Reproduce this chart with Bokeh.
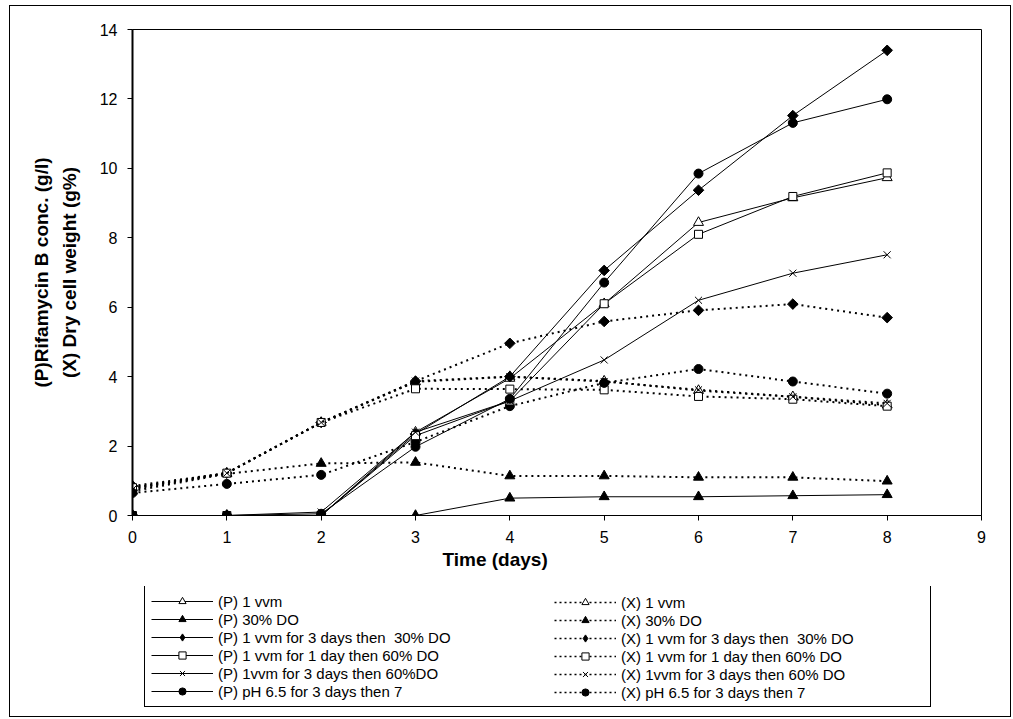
import math
from bokeh.plotting import figure
from bokeh.layouts import column
from bokeh.models import (Range1d, Legend, LegendItem, Title, FixedTicker)
from bokeh.embed import file_html
from bokeh.resources import INLINE

# ---- data ----
days = [0, 1, 2, 3, 4, 5, 6, 7, 8]
x_ticks = [0, 1, 2, 3, 4, 5, 6, 7, 8, 9]
y_ticks = [0, 2, 4, 6, 8, 10, 12, 14]

p_1vvm = [0, 0, 0, 2.4, 3.95, 6.1, 8.44, 9.15, 9.73]
p_30do = [0, 0, 0, 0, 0.5, 0.54, 0.54, 0.57, 0.6]
p_3d_30do = [0, 0, 0, 2.35, 4.0, 7.06, 9.37, 11.52, 13.4]
p_1d_60do = [0, 0, 0, 2.3, 3.3, 6.1, 8.1, 9.19, 9.87]
p_3d_60do = [0, 0, 0.1, 2.4, 3.3, 4.48, 6.2, 6.98, 7.51]
p_ph = [0, 0, 0.05, 1.98, 3.36, 6.71, 9.85, 11.31, 11.99]

x_1vvm = [0.8, 1.22, 2.68, 3.85, 4.0, 3.87, 3.6, 3.42, 3.18]
x_30do = [0.7, 1.2, 1.5, 1.53, 1.14, 1.14, 1.1, 1.1, 0.99]
x_3d_30do = [0.85, 1.22, 2.68, 3.87, 4.96, 5.59, 5.91, 6.09, 5.70]
x_1d_60do = [0.8, 1.22, 2.68, 3.65, 3.64, 3.62, 3.43, 3.35, 3.15]
x_3d_60do = [0.75, 1.22, 2.68, 3.87, 4.0, 3.86, 3.62, 3.42, 3.23]
x_ph = [0.65, 0.91, 1.17, 2.12, 3.15, 3.82, 4.22, 3.86, 3.51]

p_labels = ["(P) 1 vvm", "(P) 30% DO", "(P) 1 vvm for 3 days then  30% DO",
            "(P) 1 vvm for 1 day then 60% DO", "(P) 1vvm for 3 days then 60%DO",
            "(P) pH 6.5 for 3 days then 7"]
x_labels = ["(X) 1 vvm", "(X) 30% DO", "(X) 1 vvm for 3 days then  30% DO",
            "(X) 1 vvm for 1 day then 60% DO", "(X) 1vvm for 3 days then 60% DO",
            "(X) pH 6.5 for 3 days then 7"]

FONT = "Liberation Sans"
BORDER_CSS = ":host { outline: 1px solid black; outline-offset: 0px; }"

# ---- main chart ----
p = figure(width=1000, height=580, output_backend="svg", toolbar_location=None,
           x_range=Range1d(0, 9), y_range=Range1d(0, 14),
           min_border_left=122, min_border_right=29, min_border_top=23,
           min_border_bottom=71)
p.grid.visible = False
p.outline_line_color = "black"
p.outline_line_width = 1
p.background_fill_color = "white"
p.border_fill_color = "white"

for ax, ticks in ((p.xaxis[0], x_ticks), (p.yaxis[0], y_ticks)):
    ax.ticker = FixedTicker(ticks=ticks)
    ax.minor_tick_line_color = None
    ax.major_tick_in = 0
    ax.major_tick_out = 5
    ax.axis_line_color = "black"
    ax.major_tick_line_color = "black"
    ax.major_label_text_font = FONT
    ax.major_label_text_font_size = "16px"
    ax.major_label_text_color = "black"

p.yaxis[0].axis_line_width = 2
p.yaxis[0].major_label_standoff = 10
p.xaxis[0].major_label_standoff = 10
p.yaxis[0].axis_label = "(X) Dry cell weight (g%)"
p.yaxis[0].axis_label_text_font = FONT
p.yaxis[0].axis_label_text_font_style = "bold"
p.yaxis[0].axis_label_text_font_size = "19px"
p.yaxis[0].axis_label_text_color = "black"
p.yaxis[0].axis_label_standoff = 17

p.add_layout(Title(text="(P)Rifamycin B conc. (g/l)", align="center",
                   text_font=FONT, text_font_style="bold", text_font_size="19px",
                   text_color="black", standoff=7), "left")
p.add_layout(Title(text="Time (days)", align="left", offset=310,
                   text_font=FONT, text_font_style="bold", text_font_size="19px",
                   text_color="black", standoff=2), "below")

markers = [("triangle", "white", 10, 0), ("triangle", "black", 10, 0),
           ("square", "black", 7.5, math.pi / 4), ("square", "white", 8, 0),
           ("x", "black", 10, 0), ("circle", "black", 9, 0)]
legend_markers = [("triangle", "white", 7), ("triangle", "black", 7),
                  ("diamond", "black", 10), ("square", "white", 6),
                  ("x", "black", 7), ("circle", "black", 7)]
p_series = [p_1vvm, p_30do, p_3d_30do, p_1d_60do, p_3d_60do, p_ph]
x_series = [x_1vvm, x_30do, x_3d_30do, x_1d_60do, x_3d_60do, x_ph]

DOT = dict(line_color="black", line_width=2, line_dash="2 4")
SOLID = dict(line_color="black", line_width=1)

for (mk, fill, sz, ang), ys in zip(markers, x_series):
    p.line(days, ys, **DOT)
    p.scatter(days, ys, marker=mk, size=sz, angle=ang, fill_color=fill,
              line_color="black", line_width=1)
for (mk, fill, sz, ang), ys in zip(markers, p_series):
    p.line(days, ys, **SOLID)
    p.scatter(days, ys, marker=mk, size=sz, angle=ang, fill_color=fill,
              line_color="black", line_width=1)

# ---- legend panel ----
q = figure(width=1000, height=130, output_backend="svg", toolbar_location=None,
           x_range=Range1d(100, 101), y_range=Range1d(100, 101),
           x_axis_location=None, y_axis_location=None,
           min_border=0, min_border_left=0, min_border_right=0,
           min_border_top=0, min_border_bottom=0)
q.grid.visible = False
q.outline_line_color = None
q.background_fill_color = "white"
q.border_fill_color = "white"

p_items, x_items = [], []
for (mk, fill, sz), ys, lab in zip(legend_markers, p_series, p_labels):
    ln = q.line(days, ys, **SOLID)
    sc = q.scatter(days, ys, marker=mk, size=sz, fill_color=fill,
                   line_color="black", line_width=1)
    p_items.append(LegendItem(label=lab, renderers=[ln, sc]))
for (mk, fill, sz), ys, lab in zip(legend_markers, x_series, x_labels):
    ln = q.line(days, ys, line_color="black", line_width=1.5, line_dash="2 3")
    sc = q.scatter(days, ys, marker=mk, size=sz, fill_color=fill,
                   line_color="black", line_width=1)
    x_items.append(LegendItem(label=lab, renderers=[ln, sc]))


def make_legend(items, loc, width_label, border):
    return Legend(items=items, location=loc, margin=0, padding=6, spacing=0,
                  glyph_width=62, glyph_height=18, label_height=18,
                  label_width=width_label, label_standoff=5,
                  label_text_font=FONT, label_text_font_size="15px",
                  label_text_color="black",
                  border_line_color="black",
                  border_line_alpha=1.0 if border else 0.0,
                  border_line_width=1,
                  background_fill_color="white",
                  background_fill_alpha=1.0 if border else 0.0)


q.add_layout(make_legend(p_items, (12, 9), 706, True), "center")
q.add_layout(make_legend(x_items, (416, 9), 20, False), "center")

page = column(p, q, spacing=0, margin=(6, 0, 0, 10),
              styles={"outline": "1px solid black"},
              stylesheets=[BORDER_CSS])

open("out.html", "w").write(file_html(page, INLINE))
